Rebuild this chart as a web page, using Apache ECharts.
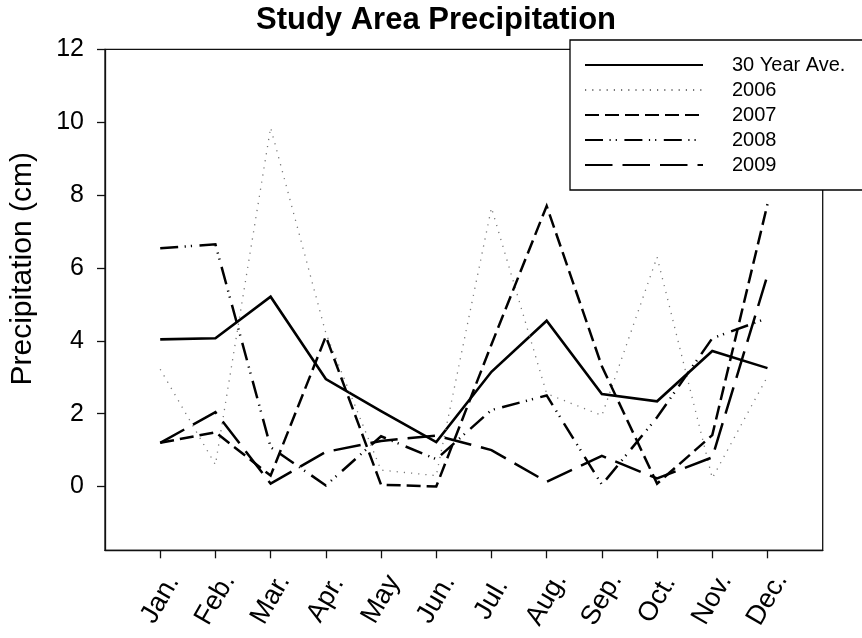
<!DOCTYPE html>
<html>
<head>
<meta charset="utf-8">
<script src="https://cdn.jsdelivr.net/npm/echarts@6/dist/echarts.min.js"></script>
<style>
  html, body { margin: 0; padding: 0; background: #fff; }
  #chart { width: 862px; height: 638px; }
</style>
</head>
<body>
<div id="chart"></div>
<script>
const months = ['Jan.', 'Feb.', 'Mar.', 'Apr.', 'May', 'Jun.', 'Jul.', 'Aug.', 'Sep.', 'Oct.', 'Nov.', 'Dec.'];
const yTicks = [0, 2, 4, 6, 8, 10, 12];
const avg30 = [4.04, 4.07, 5.21, 2.95, 2.07, 1.22, 3.15, 4.55, 2.54, 2.34, 3.72, 3.25];
const y2006 = [3.22, 0.60, 9.85, 4.21, 0.45, 0.30, 7.65, 2.55, 1.95, 6.30, 0.23, 3.02];
const y2007 = [1.20, 1.49, 0.30, 4.12, 0.05, 0.00, 3.90, 7.70, 3.30, 0.08, 1.41, 7.75];
const y2008 = [6.54, 6.65, 1.08, 0.03, 1.38, 0.75, 2.10, 2.50, 0.05, 1.90, 4.07, 4.62];
const y2009 = [1.20, 2.04, 0.08, 0.95, 1.25, 1.40, 1.00, 0.13, 0.84, 0.22, 0.80, 5.80];

const FONT = '"Liberation Sans", Arial, Helvetica, sans-serif';
const xPos = months.map((m, i) => i + 1);
const toPairs = arr => arr.map((v, i) => [xPos[i], v]);

function mkSeries(name, data, color, width, dash) {
  return {
    name: name,
    type: 'line',
    data: toPairs(data),
    symbol: 'none',
    showSymbol: false,
    animation: false,
    lineStyle: { color: color, width: width, type: dash, cap: 'butt', join: 'miter' },
    itemStyle: { color: color }
  };
}

const chart = echarts.init(document.getElementById('chart'), null, { renderer: 'canvas' });
chart.setOption({
  animation: false,
  backgroundColor: '#fff',
  title: {
    text: 'Study Area Precipitation',
    left: 256,
    top: 5,
    padding: 0,
    textStyle: { fontFamily: FONT, fontSize: 31, fontWeight: 'bold', color: '#000' }
  },
  legend: {
    orient: 'vertical',
    left: 570,
    top: 40,
    padding: [15, 30, 15, 14],
    itemWidth: 118,
    itemHeight: 14,
    itemGap: 5,
    backgroundColor: '#fff',
    borderColor: '#000',
    borderWidth: 1.3,
    borderRadius: 0,
    selectedMode: false,
    itemStyle: { opacity: 0, borderWidth: 0 },
    textStyle: { fontFamily: FONT, fontSize: 20, color: '#000', padding: [0, 0, 0, 24] },
    data: ['30 Year Ave.', '2006', '2007', '2008', '2009']
  },
  grid: {
    left: 104.5,
    right: 39.3,
    top: 49.3,
    bottom: 87.7,
    show: true,
    borderColor: '#111',
    borderWidth: 1.3,
    containLabel: false
  },
  xAxis: {
    type: 'value',
    min: 0,
    max: 13,
    axisLine: { show: true, onZero: false, lineStyle: { color: '#111', width: 1.3 } },
    axisTick: { show: true, inside: false, length: 8, customValues: xPos, lineStyle: { color: '#111', width: 1.3 } },
    splitLine: { show: false },
    axisLabel: {
      customValues: xPos,
      formatter: v => months[Math.round(v) - 1] || '',
      rotate: 60,
      align: 'center',
      verticalAlign: 'middle',
      margin: 49,
      fontFamily: FONT,
      fontSize: 27,
      color: '#000'
    }
  },
  yAxis: {
    type: 'value',
    min: -1.75,
    max: 12,
    name: 'Precipitation (cm)',
    nameLocation: 'middle',
    nameGap: 67,
    nameRotate: 90,
    nameTextStyle: { fontFamily: FONT, fontSize: 30, color: '#000', padding: [0, 0, 0, 62] },
    axisLine: { show: true, onZero: false, lineStyle: { color: '#111', width: 1.3 } },
    axisTick: { show: true, inside: false, length: 8, customValues: yTicks, lineStyle: { color: '#111', width: 1.3 } },
    splitLine: { show: false },
    axisLabel: {
      customValues: yTicks,
      margin: 21,
      fontFamily: FONT,
      fontSize: 25,
      color: '#000'
    }
  },
  series: [
    mkSeries('30 Year Ave.', avg30, '#000', 2.6, 'solid'),
    mkSeries('2006', y2006, '#777', 1.3, [1.2, 6]),
    mkSeries('2007', y2007, '#000', 2.5, [14, 6]),
    mkSeries('2008', y2008, '#000', 2.5, [18, 6.5, 1.2, 5, 1.2, 7.5]),
    mkSeries('2009', y2009, '#000', 2.5, [27.5, 10])
  ]
});
</script>
</body>
</html>
